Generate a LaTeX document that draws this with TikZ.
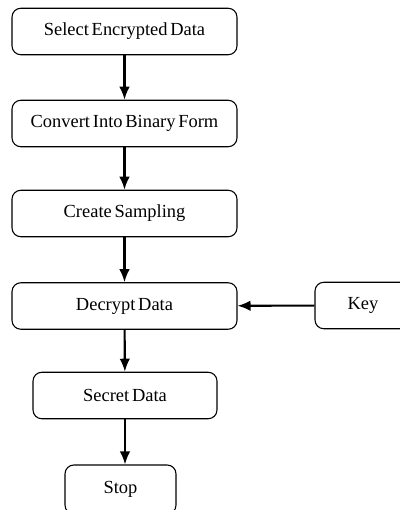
\documentclass[tikz,border=0pt]{standalone}
\usepackage{fontspec}
\setmainfont[WordSpace=0.6]{Liberation Serif}
\usetikzlibrary{arrows.meta}
\begin{document}
\begin{tikzpicture}[x=0.02cm, y=-0.02cm, >={Latex[length=2.6mm, width=2.1mm]},
		stepbox/.style={draw, rounded corners=5pt, line width=0.6pt, minimum height=0.93cm, font=\fontsize{10.5}{12}\selectfont},
		flow/.style={->, line width=1.2pt}]
			\useasboundingbox (0,0) rectangle (399,510);
			\node (sel) [stepbox, minimum width=4.5cm] at (124.5,31.5) {Select Encrypted Data};
			\node (conv) [stepbox, minimum width=4.5cm] at (124.5,123.5) {Convert Into Binary Form};
			\node (samp) [stepbox, minimum width=4.5cm] at (124.5,213.5) {Create Sampling};
			\node (dec) [stepbox, minimum width=4.5cm] at (124.5,306) {Decrypt Data};
			\node (key) [stepbox, minimum width=1.92cm] at (363,305.5) {Key};
			\node (sec) [stepbox, minimum width=3.68cm] at (125,395.5) {Secret Data};
			\node (stop) [stepbox, minimum width=2.22cm, minimum height=0.98cm] at (120.5,489.5) {Stop};
			\draw[flow] (sel) -- (conv);
			\draw[flow] (conv) -- (samp);
			\draw[flow] (samp) -- (dec);
			\draw[flow] (key) -- (dec);
			\draw[flow] (dec) -- (sec);
			\draw[flow] (sec.south) -- (sec.south |- stop.north);

		\end{tikzpicture}
\end{document}
